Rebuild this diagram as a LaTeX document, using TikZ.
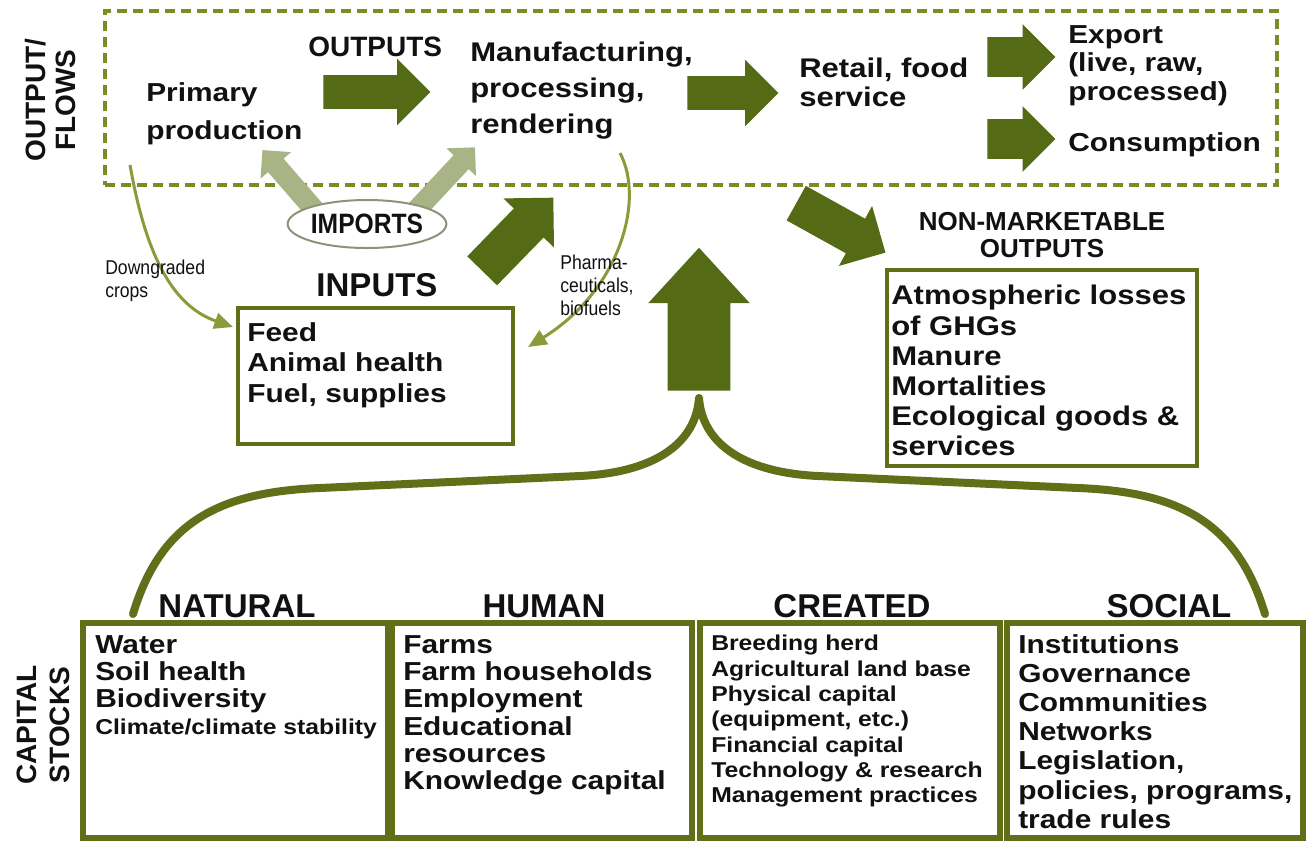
\documentclass[tikz,border=0pt]{standalone}
\usepackage{fontspec}
\setmainfont{Liberation Sans}
\newfontfamily\wf[FakeStretch=1.15]{Liberation Sans}
\newfontfamily\nf[FakeStretch=0.88]{Liberation Sans}
\usetikzlibrary{shapes.arrows,shapes.geometric,arrows.meta}

\definecolor{arrowgreen}{RGB}{84,106,20}
\definecolor{boxgreen}{RGB}{95,112,25}
\definecolor{dashgreen}{RGB}{122,140,38}
\definecolor{curvegreen}{RGB}{138,156,58}
\definecolor{importgreen}{RGB}{168,180,134}
\definecolor{ellgray}{RGB}{140,148,120}
\definecolor{ink}{RGB}{17,17,17}

% font size given in pixels of the drawing grid (1px = 0.75pt)
\newcommand\fpx[2]{\fontsize{\fpeval{0.75*#1}pt}{\fpeval{0.75*#2}pt}\selectfont}

\begin{document}
\begin{tikzpicture}[x=0.75pt,y=-0.75pt,
  every node/.style={inner sep=0pt, text=ink},
  % #1 length, #2 head width, #3 shaft width, #4 tip angle
  blockarrow/.style n args={4}{single arrow, draw=none, fill=arrowgreen,
    anchor=tail, inner xsep=0pt, inner ysep={#3*0.375pt}, minimum width=0pt,
    minimum height={#1*0.75pt}, single arrow head extend={(#2-#3)*0.375pt},
    single arrow tip angle=#4},
  boxframe/.style={rectangle, draw=boxgreen, fill=white},
  listtext/.style={anchor=north west, align=left},
  thinarrow/.style={draw=curvegreen, line width=2.25pt,
    -{Triangle[length=14pt,width=12pt]}},
  brace/.style={draw=boxgreen, line width=6pt, line cap=round, line join=round}
]

\fill[white] (0,0) rectangle (1307,844);
\useasboundingbox (0,0) rectangle (1307,844);

% output / flows frame
\node[rectangle, draw=dashgreen, line width=3pt, dash pattern=on 7.5pt off 4.5pt,
  minimum width=1172*0.75pt, minimum height=174*0.75pt] (flows) at (691,98) {};

% imports feeding the two first stages
\node[blockarrow={95}{40}{20}{90}, fill=importgreen, rotate=131] (imp1) at (325,222) {};
\node[blockarrow={95}{40}{20}{90}, fill=importgreen, rotate=47] (imp2) at (410,217) {};
\node[ellipse, draw=ellgray, line width=1.5pt, fill=white,
  minimum width=150*0.75pt, minimum height=48*0.75pt,
  font=\nf\bfseries\fpx{28}{30}] (imports) at (367,224) {IMPORTS};

% flow arrows
\node[blockarrow={107}{66}{33}{90}] (a1) at (323,92) {};
\node[blockarrow={91}{66}{33}{90}] (a2) at (687,93) {};
\node[blockarrow={68}{65}{39}{90}] (a3) at (987,57) {};
\node[blockarrow={68}{65}{39}{90}] (a4) at (987,139) {};
\node[blockarrow={102}{70}{41}{90}, rotate=45.8] (a5) at (482,271) {};
\node[blockarrow={102}{68}{39}{90}, rotate=-29] (a6) at (796,203) {};
\node[blockarrow={143}{101}{62}{85}, rotate=90] (a7) at (699,391) {};

% flow stages
\node[listtext, font=\wf\bfseries\fpx{26}{38}] (primary) at (146,82) {Primary\\production};
\node[anchor=base west, font=\bfseries\fpx{28}{30}] (outputs) at (308,56) {OUTPUTS};
\node[listtext, font=\wf\bfseries\fpx{27}{36}] (manuf) at (470,42) {Manufacturing,\\processing,\\rendering};
\node[listtext, font=\wf\bfseries\fpx{27}{29}] (retail) at (799,58) {Retail, food\\service};
\node[listtext, font=\wf\bfseries\fpx{26}{28.5}] (export) at (1068,25) {Export\\(live, raw,\\processed)};
\node[listtext, font=\wf\bfseries\fpx{26}{28}] (consumption) at (1068,132) {Consumption};

% side labels
\node[rotate=90, align=center, font=\bfseries\fpx{28}{30}] (flowlabel) at (50,100) {OUTPUT/\\FLOWS};
\node[rotate=90, align=center, font=\bfseries\fpx{28}{33}] (stocklabel) at (43,725) {CAPITAL\\STOCKS};

% inputs
\node[anchor=base, font=\bfseries\fpx{33}{36}] (inputs) at (377,296) {INPUTS};
\node[boxframe, line width=3pt, minimum width=275*0.75pt, minimum height=136*0.75pt] (inputbox) at (375.5,376) {};
\node[listtext, font=\wf\bfseries\fpx{26}{30.5}] (inputlist) at (247,322) {Feed\\Animal health\\Fuel, supplies};

% non-marketable outputs
\node[anchor=north, align=center, font=\bfseries\fpx{26}{27}] (nonmkt) at (1042,212) {NON-MARKETABLE\\OUTPUTS};
\node[boxframe, line width=3pt, minimum width=310*0.75pt, minimum height=196*0.75pt] (nonmktbox) at (1042,368) {};
\node[listtext, font=\wf\bfseries\fpx{27}{30.2}] (nonmktlist) at (891,285)
  {Atmospheric losses\\of GHGs\\Manure\\Mortalities\\Ecological goods \&\\services};

% side flows
\coordinate (dgstart) at (130,165);
\coordinate (dgend) at (233,327);
\draw[thinarrow] (dgstart) .. controls (145,250) and (170,305) .. (dgend);
\node[listtext, font=\nf\fpx{20}{23}] (dglabel) at (105,260) {Downgraded\\crops};
\coordinate (phstart) at (620,153);
\coordinate (phend) at (528,347);
\draw[thinarrow] (phstart) .. controls (645,200) and (620,290) .. (phend);
\node[listtext, font=\nf\fpx{20}{23}] (phlabel) at (560,255) {Pharma-\\ceuticals,\\biofuels};

% capital stocks
\tikzset{capbox/.style={boxframe, line width=4.5pt, minimum height=215*0.75pt}}
\node[capbox, minimum width=305*0.75pt] (natural) at (235.5,730.5) {};
\node[capbox, minimum width=300*0.75pt] (human) at (542,730.5) {};
\node[capbox, minimum width=300*0.75pt] (created) at (850,730.5) {};
\node[capbox, minimum width=296*0.75pt] (social) at (1155,730.5) {};

\tikzset{caphead/.style={anchor=base, font=\bfseries\fpx{33}{36}}}
\node[caphead] (naturalhead) at (237,617) {NATURAL};
\node[caphead] (humanhead) at (544,617) {HUMAN};
\node[caphead] (createdhead) at (852,617) {CREATED};
\node[caphead] (socialhead) at (1169,617) {SOCIAL};

\node[listtext, font=\wf\bfseries\fpx{26}{27}] (naturallist) at (95,635)
  {Water\\Soil health\\Biodiversity\\{\fpx{21.5}{27}Climate/climate stability}};
\node[listtext, font=\wf\bfseries\fpx{26}{27.3}] (humanlist) at (403,635)
  {Farms\\Farm households\\Employment\\Educational\\resources\\Knowledge capital};
\node[listtext, font=\wf\bfseries\fpx{21.5}{25.3}] (createdlist) at (711,635)
  {Breeding herd\\Agricultural land base\\Physical capital\\(equipment, etc.)\\Financial capital\\Technology \& research\\Management practices};
\node[listtext, font=\wf\bfseries\fpx{26}{29.2}] (sociallist) at (1018,634)
  {Institutions\\Governance\\Communities\\Networks\\Legislation,\\policies, programs,\\trade rules};

% brace gathering the four stocks into the up arrow
\draw[brace] (133,614) .. controls (160,525) and (215,492) .. (320,488)
  -- (580,476) .. controls (660,472) and (696,440) .. (699,398)
  .. controls (702,440) and (738,472) .. (818,476)
  -- (1078,488) .. controls (1183,492) and (1238,525) .. (1265,614);

\end{tikzpicture}
\end{document}
